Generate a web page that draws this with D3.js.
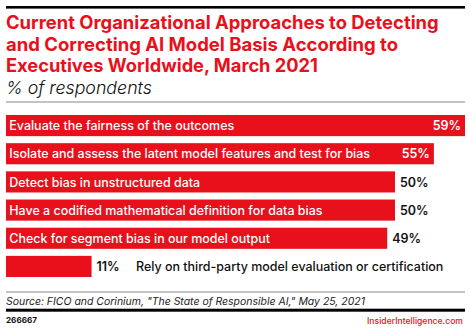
<!DOCTYPE html>
<html><head><meta charset="utf-8">
<script src="https://cdn.jsdelivr.net/npm/d3@7"></script>
<style>
html,body{margin:0;padding:0;background:#fff;}
svg{display:block;}
text{font-family:Inter,"Noto Sans",sans-serif;}
</style></head>
<body>
<svg id="c" width="470" height="330"></svg>
<script>
const categories = [
  "Evaluate the fairness of the outcomes",
  "Isolate and assess the latent model features and test for bias",
  "Detect bias in unstructured data",
  "Have a codified mathematical definition for data bias",
  "Check for segment bias in our model output",
  "Rely on third-party model evaluation or certification"
];
const values = [59, 55, 50, 50, 49, 11];
const titleLines = [
  "Current Organizational Approaches to Detecting",
  "and Correcting AI Model Basis According to",
  "Executives Worldwide, March 2021"
];
const subtitle = "% of respondents";
const source = "Source: FICO and Corinium, \"The State of Responsible AI,\" May 25, 2021";
const chartId = "266667";
const brand = "InsiderIntelligence.com";

const RED = "#e8101b";
const svg = d3.select("#c");

function fit(sel, target){
  const w = sel.node().getComputedTextLength();
  const fs = parseFloat(sel.attr("font-size"));
  sel.attr("font-size", (fs*target/w).toFixed(2));
  return sel;
}

// top rule
svg.append("rect").attr("x",6).attr("y",6).attr("width",459).attr("height",2.6).attr("fill","#000");

const titleTargets = [433, 392, 312];
const titleBase = [28.5, 50.5, 72.2];
titleLines.forEach((t,i)=>{
  const s = svg.append("text").attr("x",6).attr("y",titleBase[i])
    .attr("font-size",17).attr("font-weight",700).attr("fill",RED).text(t);
  fit(s, titleTargets[i]);
});
fit(svg.append("text").attr("x",6).attr("y",93.5).attr("font-size",17)
  .attr("font-style","italic").attr("font-weight",300).attr("fill","#111").text(subtitle), 146);

svg.append("rect").attr("x",6).attr("y",101.5).attr("width",459).attr("height",1).attr("fill","#888");

// bars
const x = d3.scaleLinear().domain([0,59]).range([6,465]);
const y = d3.scaleBand().domain(categories).range([115,277]).paddingInner(0.25).paddingOuter(0);

svg.append("g").selectAll("rect.bar").data(values).join("rect").attr("class","bar")
  .attr("x",x(0)).attr("y",(d,i)=>y(categories[i]))
  .attr("width",d=>x(d)-x(0)).attr("height",y.bandwidth()).attr("fill",RED);

// label font size derived from the longest label's measured width
const probe = svg.append("text").attr("font-size",12.6).attr("font-weight",500).text(categories[1]);
const LFS = 12.6 * 361 / probe.node().getComputedTextLength();
probe.remove();

values.forEach((v,i)=>{
  const cy = y(categories[i]) + y.bandwidth()/2 + 4.6;
  const barEnd = x(v);
  let catX, catFill, valX, valAnchor, valFill;
  if (v < 20) {
    valX = barEnd + 5; valAnchor = "start"; valFill = "#111";
    catX = 136; catFill = "#111";
  } else if (v >= 55) {
    valX = barEnd - 4; valAnchor = "end"; valFill = "#fff";
    catX = 9.3; catFill = "#fff";
  } else {
    valX = barEnd + 5; valAnchor = "start"; valFill = "#111";
    catX = 9.3; catFill = "#fff";
  }
  svg.append("text").attr("class","cat").attr("x",catX).attr("y",cy)
    .attr("font-size",LFS).attr("font-weight",500).attr("fill",catFill).text(categories[i]);
  svg.append("text").attr("class","val").attr("x",valX).attr("y",cy).attr("text-anchor",valAnchor)
    .attr("font-size",LFS).attr("font-weight",600).attr("fill",valFill).text(v+"%");
});

// footer
svg.append("rect").attr("x",6).attr("y",291.5).attr("width",459).attr("height",1).attr("fill","#888");
fit(svg.append("text").attr("x",6).attr("y",304.5).attr("font-size",12)
  .attr("font-style","italic").attr("font-weight",400).attr("fill","#222").text(source), 359);
svg.append("rect").attr("x",6).attr("y",308.7).attr("width",459).attr("height",3).attr("fill","#000");
fit(svg.append("text").attr("x",6).attr("y",323).attr("font-size",9)
  .attr("font-weight",700).attr("fill","#111").text(chartId), 31);
fit(svg.append("text").attr("x",463).attr("y",323.5).attr("text-anchor","end").attr("font-size",10)
  .attr("font-weight",500).attr("fill",RED).text(brand), 96);
</script>
</body></html>
